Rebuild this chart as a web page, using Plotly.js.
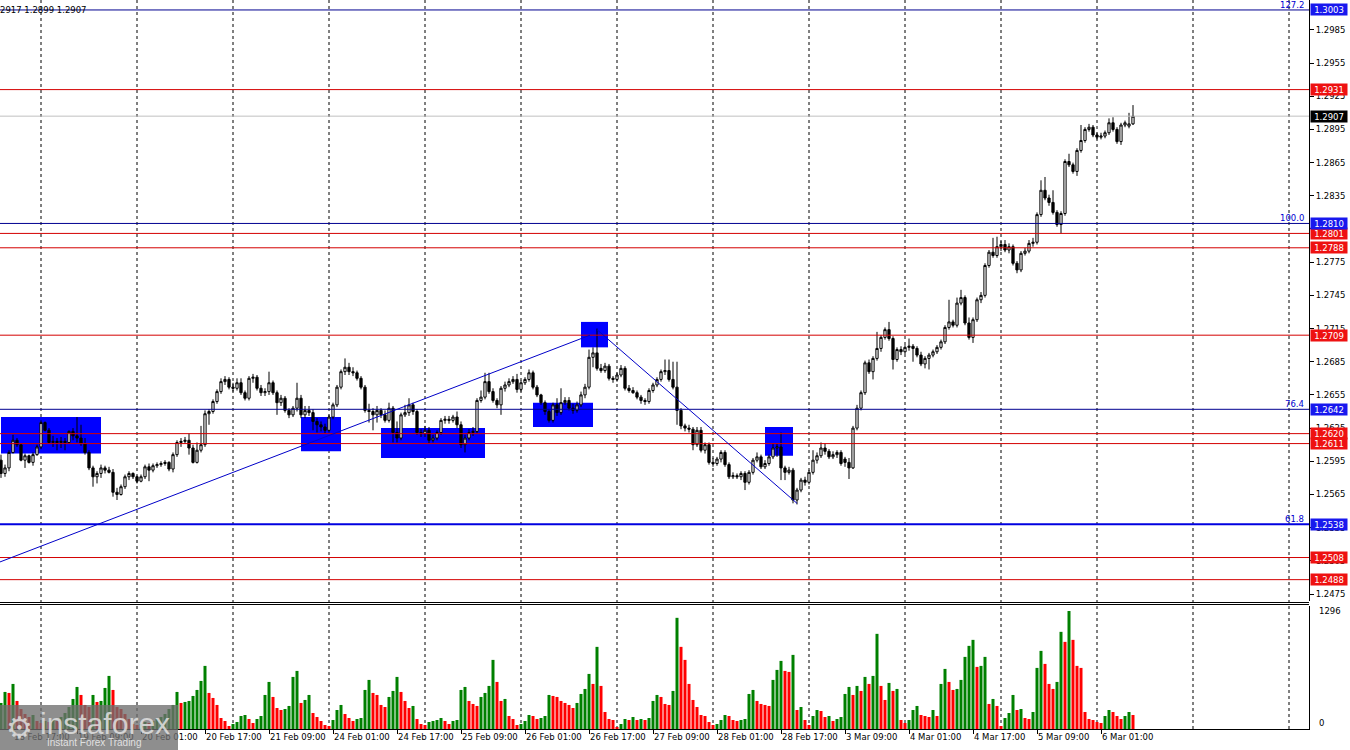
<!DOCTYPE html>
<html><head><meta charset="utf-8">
<script src="https://cdn.plot.ly/plotly-3.0.1.min.js"></script>
<style>html,body{margin:0;padding:0;background:#fff;overflow:hidden}#chart{width:1350px;height:750px}</style>
</head><body><div id="chart"></div>
<script>
// Hourly bars; hour 0 = 19 Feb 00:00 (weekend hours skipped), first bar is hour -10 (18 Feb 14:00)
const firstHour = -10;
const open = [
1.2596,1.2584,1.2589,1.2603,1.2614,1.2610,1.2596,1.2600,1.2594,1.2601,
1.2608,1.2630,1.2623,1.2612,1.2613,1.2612,1.2613,1.2612,1.2622,1.2618,
1.2616,1.2611,1.2603,1.2589,1.2581,1.2584,1.2589,1.2587,1.2585,1.2567,
1.2565,1.2572,1.2581,1.2584,1.2581,1.2577,1.2581,1.2590,1.2587,1.2591,
1.2592,1.2593,1.2594,1.2588,1.2601,1.2612,1.2613,1.2614,1.2607,1.2594,
1.2605,1.2610,1.2638,1.2640,1.2649,1.2658,1.2667,1.2669,1.2662,1.2661,
1.2666,1.2657,1.2652,1.2670,1.2671,1.2661,1.2657,1.2658,1.2666,1.2657,
1.2648,1.2652,1.2641,1.2637,1.2643,1.2652,1.2637,1.2641,1.2639,1.2631,
1.2628,1.2626,1.2623,1.2635,1.2646,1.2662,1.2676,1.2680,1.2676,1.2675,
1.2670,1.2662,1.2641,1.2640,1.2637,1.2641,1.2637,1.2632,1.2643,1.2621,
1.2616,1.2637,1.2639,1.2646,1.2640,1.2621,1.2620,1.2623,1.2614,1.2616,
1.2621,1.2632,1.2633,1.2632,1.2635,1.2628,1.2610,1.2616,1.2621,1.2622,
1.2650,1.2653,1.2667,1.2658,1.2650,1.2646,1.2661,1.2664,1.2667,1.2669,
1.2660,1.2666,1.2669,1.2675,1.2662,1.2655,1.2648,1.2640,1.2632,1.2646,
1.2639,1.2648,1.2650,1.2643,1.2641,1.2646,1.2655,1.2662,1.2689,1.2693,
1.2679,1.2677,1.2681,1.2670,1.2669,1.2673,1.2679,1.2661,1.2659,1.2657,
1.2653,1.2650,1.2649,1.2659,1.2664,1.2669,1.2676,1.2677,1.2669,1.2662,
1.2641,1.2627,1.2625,1.2624,1.2610,1.2623,1.2605,1.2610,1.2594,1.2593,
1.2597,1.2603,1.2592,1.2581,1.2582,1.2581,1.2584,1.2576,1.2585,1.2596,
1.2599,1.2590,1.2593,1.2599,1.2607,1.2608,1.2589,1.2585,1.2587,1.2560,
1.2569,1.2578,1.2576,1.2585,1.2596,1.2600,1.2607,1.2604,1.2599,1.2601,
1.2603,1.2597,1.2594,1.2589,1.2625,1.2643,1.2657,1.2684,1.2676,1.2688,
1.2697,1.2707,1.2714,1.2706,1.2687,1.2696,1.2694,1.2698,1.2699,1.2697,
1.2691,1.2683,1.2688,1.2691,1.2694,1.2698,1.2703,1.2716,1.2721,1.2718,
1.2738,1.2743,1.2720,1.2707,1.2723,1.2741,1.2745,1.2772,1.2784,1.2781,
1.2789,1.2791,1.2786,1.2789,1.2774,1.2768,1.2783,1.2785,1.2792,1.2793,
1.2818,1.2840,1.2833,1.2829,1.2820,1.2809,1.2819,1.2866,1.2863,1.2857,
1.2876,1.2885,1.2895,1.2897,1.2890,1.2888,1.2889,1.2892,1.2901,1.2895,
1.2884,1.2899,1.2898,1.2900];
const high = [
1.2601,1.2592,1.2605,1.2619,1.2616,1.2611,1.2602,1.2601,1.2603,1.2610,
1.2632,1.2631,1.2625,1.2618,1.2616,1.2617,1.2616,1.2623,1.2625,1.2635,
1.2628,1.2616,1.2605,1.2591,1.2586,1.2592,1.2591,1.2590,1.2588,1.2571,
1.2574,1.2583,1.2586,1.2585,1.2582,1.2583,1.2592,1.2593,1.2593,1.2594,
1.2595,1.2596,1.2595,1.2603,1.2614,1.2616,1.2617,1.2620,1.2610,1.2612,
1.2627,1.2641,1.2642,1.2651,1.2660,1.2670,1.2672,1.2671,1.2666,1.2670,
1.2670,1.2659,1.2672,1.2674,1.2673,1.2664,1.2661,1.2676,1.2668,1.2659,
1.2655,1.2654,1.2643,1.2645,1.2666,1.2655,1.2645,1.2645,1.2642,1.2634,
1.2631,1.2629,1.2637,1.2648,1.2664,1.2678,1.2688,1.2684,1.2680,1.2677,
1.2672,1.2664,1.2647,1.2643,1.2645,1.2643,1.2641,1.2648,1.2645,1.2631,
1.2639,1.2646,1.2652,1.2648,1.2642,1.2624,1.2627,1.2626,1.2619,1.2623,
1.2634,1.2636,1.2636,1.2637,1.2640,1.2631,1.2619,1.2624,1.2626,1.2652,
1.2659,1.2675,1.2675,1.2661,1.2652,1.2663,1.2667,1.2670,1.2672,1.2674,
1.2668,1.2671,1.2678,1.2677,1.2664,1.2656,1.2650,1.2642,1.2648,1.2652,
1.2661,1.2653,1.2653,1.2647,1.2649,1.2658,1.2665,1.2696,1.2698,1.2715,
1.2683,1.2684,1.2683,1.2672,1.2675,1.2682,1.2681,1.2664,1.2662,1.2659,
1.2655,1.2652,1.2661,1.2666,1.2671,1.2678,1.2687,1.2687,1.2685,1.2685,
1.2643,1.2629,1.2628,1.2626,1.2626,1.2626,1.2612,1.2612,1.2598,1.2599,
1.2605,1.2605,1.2594,1.2585,1.2584,1.2586,1.2586,1.2587,1.2598,1.2603,
1.2601,1.2596,1.2601,1.2611,1.2611,1.2621,1.2591,1.2590,1.2589,1.2571,
1.2580,1.2581,1.2587,1.2605,1.2603,1.2612,1.2611,1.2606,1.2604,1.2605,
1.2605,1.2599,1.2598,1.2627,1.2646,1.2659,1.2686,1.2687,1.2690,1.2712,
1.2709,1.2716,1.2721,1.2708,1.2698,1.2699,1.2700,1.2706,1.2701,1.2699,
1.2694,1.2690,1.2693,1.2696,1.2700,1.2705,1.2718,1.2741,1.2723,1.2743,
1.2750,1.2745,1.2725,1.2725,1.2743,1.2748,1.2774,1.2786,1.2797,1.2798,
1.2794,1.2795,1.2792,1.2791,1.2776,1.2785,1.2788,1.2795,1.2797,1.2820,
1.2849,1.2852,1.2836,1.2840,1.2822,1.2821,1.2868,1.2873,1.2865,1.2878,
1.2899,1.2897,1.2900,1.2899,1.2892,1.2892,1.2894,1.2905,1.2906,1.2897,
1.2901,1.2903,1.2910,1.2917];
const low = [
1.2580,1.2581,1.2586,1.2602,1.2608,1.2595,1.2589,1.2593,1.2591,1.2600,
1.2606,1.2622,1.2611,1.2608,1.2605,1.2607,1.2605,1.2611,1.2614,1.2612,
1.2609,1.2601,1.2587,1.2572,1.2575,1.2580,1.2584,1.2584,1.2563,1.2560,
1.2564,1.2570,1.2578,1.2579,1.2575,1.2576,1.2579,1.2577,1.2585,1.2589,
1.2590,1.2591,1.2586,1.2585,1.2599,1.2608,1.2611,1.2601,1.2593,1.2593,
1.2603,1.2608,1.2628,1.2638,1.2647,1.2656,1.2664,1.2660,1.2658,1.2659,
1.2655,1.2650,1.2650,1.2666,1.2659,1.2654,1.2654,1.2655,1.2655,1.2637,
1.2645,1.2639,1.2634,1.2635,1.2640,1.2634,1.2634,1.2636,1.2623,1.2621,
1.2622,1.2620,1.2621,1.2633,1.2644,1.2660,1.2673,1.2673,1.2672,1.2668,
1.2660,1.2639,1.2630,1.2623,1.2630,1.2634,1.2630,1.2630,1.2612,1.2612,
1.2614,1.2635,1.2636,1.2637,1.2619,1.2617,1.2617,1.2611,1.2612,1.2614,
1.2619,1.2629,1.2629,1.2630,1.2625,1.2607,1.2603,1.2614,1.2618,1.2620,
1.2648,1.2651,1.2656,1.2648,1.2643,1.2637,1.2658,1.2662,1.2665,1.2657,
1.2658,1.2664,1.2667,1.2660,1.2653,1.2646,1.2637,1.2630,1.2630,1.2636,
1.2637,1.2646,1.2641,1.2638,1.2639,1.2644,1.2652,1.2660,1.2680,1.2677,
1.2675,1.2675,1.2668,1.2666,1.2667,1.2671,1.2659,1.2657,1.2656,1.2651,
1.2647,1.2646,1.2647,1.2657,1.2662,1.2667,1.2673,1.2667,1.2660,1.2628,
1.2624,1.2622,1.2621,1.2605,1.2608,1.2603,1.2602,1.2592,1.2590,1.2591,
1.2594,1.2590,1.2579,1.2579,1.2579,1.2578,1.2569,1.2574,1.2583,1.2594,
1.2588,1.2588,1.2591,1.2597,1.2599,1.2578,1.2578,1.2583,1.2557,1.2556,
1.2567,1.2573,1.2574,1.2583,1.2593,1.2598,1.2601,1.2597,1.2597,1.2598,
1.2591,1.2590,1.2579,1.2588,1.2623,1.2641,1.2655,1.2674,1.2669,1.2686,
1.2694,1.2705,1.2704,1.2678,1.2685,1.2691,1.2692,1.2695,1.2685,1.2689,
1.2681,1.2679,1.2678,1.2689,1.2692,1.2696,1.2701,1.2714,1.2716,1.2716,
1.2736,1.2718,1.2705,1.2702,1.2721,1.2738,1.2743,1.2770,1.2779,1.2779,
1.2785,1.2784,1.2783,1.2772,1.2765,1.2766,1.2781,1.2783,1.2789,1.2791,
1.2816,1.2831,1.2826,1.2818,1.2807,1.2801,1.2817,1.2861,1.2855,1.2853,
1.2874,1.2883,1.2893,1.2888,1.2886,1.2886,1.2887,1.2890,1.2893,1.2882,
1.2881,1.2897,1.2896,1.2899];
const close = [
1.2584,1.2589,1.2603,1.2614,1.2610,1.2596,1.2600,1.2594,1.2601,1.2608,
1.2630,1.2623,1.2612,1.2613,1.2612,1.2613,1.2612,1.2622,1.2618,1.2616,
1.2611,1.2603,1.2589,1.2581,1.2584,1.2589,1.2587,1.2585,1.2567,1.2565,
1.2572,1.2581,1.2584,1.2581,1.2577,1.2581,1.2590,1.2587,1.2591,1.2592,
1.2593,1.2594,1.2588,1.2601,1.2612,1.2613,1.2614,1.2607,1.2594,1.2605,
1.2610,1.2638,1.2640,1.2649,1.2658,1.2667,1.2669,1.2662,1.2661,1.2666,
1.2657,1.2652,1.2670,1.2671,1.2661,1.2657,1.2658,1.2666,1.2657,1.2648,
1.2652,1.2641,1.2637,1.2643,1.2652,1.2637,1.2641,1.2639,1.2631,1.2628,
1.2626,1.2623,1.2635,1.2646,1.2662,1.2676,1.2680,1.2676,1.2675,1.2670,
1.2662,1.2641,1.2640,1.2637,1.2641,1.2637,1.2632,1.2643,1.2621,1.2616,
1.2637,1.2639,1.2646,1.2640,1.2621,1.2620,1.2623,1.2614,1.2616,1.2621,
1.2632,1.2633,1.2632,1.2635,1.2628,1.2610,1.2616,1.2621,1.2622,1.2650,
1.2653,1.2667,1.2658,1.2650,1.2646,1.2661,1.2664,1.2667,1.2669,1.2660,
1.2666,1.2669,1.2675,1.2662,1.2655,1.2648,1.2640,1.2632,1.2646,1.2639,
1.2648,1.2650,1.2643,1.2641,1.2646,1.2655,1.2662,1.2689,1.2693,1.2679,
1.2677,1.2681,1.2670,1.2669,1.2673,1.2679,1.2661,1.2659,1.2657,1.2653,
1.2650,1.2649,1.2659,1.2664,1.2669,1.2676,1.2677,1.2669,1.2662,1.2641,
1.2627,1.2625,1.2624,1.2610,1.2623,1.2605,1.2610,1.2594,1.2593,1.2597,
1.2603,1.2592,1.2581,1.2582,1.2581,1.2584,1.2576,1.2585,1.2596,1.2599,
1.2590,1.2593,1.2599,1.2607,1.2608,1.2589,1.2585,1.2587,1.2560,1.2569,
1.2578,1.2576,1.2585,1.2596,1.2600,1.2607,1.2604,1.2599,1.2601,1.2603,
1.2593,1.2594,1.2589,1.2625,1.2643,1.2657,1.2684,1.2676,1.2688,1.2697,
1.2707,1.2714,1.2706,1.2687,1.2696,1.2694,1.2698,1.2699,1.2697,1.2691,
1.2683,1.2688,1.2691,1.2694,1.2698,1.2703,1.2716,1.2721,1.2718,1.2738,
1.2743,1.2720,1.2707,1.2723,1.2741,1.2745,1.2772,1.2784,1.2781,1.2789,
1.2791,1.2786,1.2789,1.2774,1.2768,1.2783,1.2785,1.2792,1.2793,1.2818,
1.2840,1.2833,1.2829,1.2820,1.2809,1.2819,1.2866,1.2863,1.2857,1.2876,
1.2885,1.2895,1.2897,1.2890,1.2888,1.2889,1.2892,1.2901,1.2895,1.2884,
1.2899,1.2901,1.2900,1.2907];
const volume = [
286,407,396,495,308,220,165,132,154,88,
66,88,77,99,88,132,176,242,330,462,
374,264,242,374,297,308,451,583,429,242,
220,165,110,55,44,55,77,66,88,110,
132,165,220,264,407,286,297,308,363,429,
528,693,396,341,264,121,88,33,55,77,
143,154,110,66,110,143,374,517,352,231,
209,220,253,572,638,286,319,374,176,132,
88,44,33,99,209,264,165,121,88,110,
121,429,539,396,374,264,242,352,418,572,
407,308,231,253,110,55,44,77,88,99,
121,88,55,88,99,429,462,308,275,253,
352,396,473,759,517,308,330,143,110,44,
55,88,154,143,110,121,143,374,363,352,
308,286,264,231,286,385,440,605,495,902,
473,187,110,99,22,55,110,99,132,99,
110,99,121,308,374,352,275,264,418,1221,
902,759,495,319,242,154,143,77,44,55,
99,154,143,99,88,99,110,385,429,308,
275,264,253,539,649,748,638,627,814,209,
242,99,44,143,209,198,132,143,88,110,
132,385,462,374,473,418,572,495,583,1045,
473,319,506,418,440,99,66,99,209,253,
154,143,132,209,143,495,660,517,429,440,
539,792,913,979,682,693,792,275,330,253,
33,121,176,374,209,220,121,110,187,671,
858,715,495,440,517,1067,957,1296,979,693,
671,187,110,99,77,66,143,209,187,143,
110,143,187,154];
const timeLabels = ['18 Feb 17:00','19 Feb 09:00','20 Feb 01:00','20 Feb 17:00','21 Feb 09:00','24 Feb 01:00','24 Feb 17:00','25 Feb 09:00','26 Feb 01:00','26 Feb 17:00','27 Feb 09:00','28 Feb 01:00','28 Feb 17:00','3 Mar 09:00','4 Mar 01:00','4 Mar 17:00','5 Mar 09:00','6 Mar 01:00'];
const priceTicks = [1.2475,1.2505,1.2535,1.2565,1.2595,1.2625,1.2655,1.2685,1.2715,1.2745,1.2775,1.2805,1.2835,1.2865,1.2895,1.2925,1.2955,1.2985];
const redLevels = [1.2931,1.2801,1.2788,1.2709,1.2620,1.2611,1.2508,1.2488];
const blueLevels = [1.3003,1.2810,1.2642,1.2538];
const fibLabels = ['127.2','100.0','76.4','61.8'];
const lastPrice = 1.2907;
const volumeMax = 1296;
const headerText = '2917 1.2899 1.2907';
// zones: [startHour, endHour, topPrice, bottomPrice]
const zoneStart = [-10, 65, 85, 123, 135, 181];
const zoneEnd   = [15, 75, 111, 138, 141.75, 188];
const zoneTop   = [1.2635, 1.2635, 1.2625, 1.2648, 1.2721, 1.2626];
const zoneBot   = [1.2602, 1.2604, 1.2598, 1.2626, 1.2698, 1.2600];
// trend lines: [hour, price] pairs
const trendA = [[-10.25, 1.2504], [137.25, 1.2709]];
const trendB = [[139, 1.2714], [189, 1.2557]];

const x = open.map((_, i) => i + firstHour);
const volColors = volume.map((v, i) => (i === 0 || v > volume[i - 1]) ? '#008000' : '#ff0000');

const H = 750, mB = 21, mT = 0, plotH = H - mT - mB;
const py = p => (H - mB - p) / plotH; // pixel row -> paper y
const FONT = 'DejaVu Sans';

const traces = [
  {type:'candlestick', x:x, open:open, high:high, low:low, close:close, xaxis:'x', yaxis:'y',
   increasing:{line:{color:'#000000', width:1}, fillcolor:'#ffffff'},
   decreasing:{line:{color:'#000000', width:1}, fillcolor:'#000000'},
   whiskerwidth:0, hoverinfo:'skip', showlegend:false},
  {type:'bar', x:x, y:volume, xaxis:'x', yaxis:'y2', marker:{color:volColors, line:{width:0}},
   hoverinfo:'skip', showlegend:false}
];

const shapes = [];
for (let i = 0; i < zoneStart.length; i++) {
  shapes.push({type:'rect', xref:'x', yref:'y', x0:zoneStart[i], x1:zoneEnd[i], y0:zoneBot[i], y1:zoneTop[i],
    fillcolor:'#0000ff', line:{width:0}, layer:'below'});
}
for (let d = 0; d <= 312; d += 24) {
  shapes.push({type:'line', xref:'x', yref:'paper', x0:d, x1:d, y0:0, y1:1,
    line:{color:'#000000', width:1, dash:'3px,3px'}, layer:'below'});
}
redLevels.forEach(v => shapes.push({type:'line', xref:'paper', yref:'y', x0:0, x1:1, y0:v, y1:v,
  line:{color:'#d40000', width:1}}));
blueLevels.forEach((v, i) => shapes.push({type:'line', xref:'paper', yref:'y', x0:0, x1:1, y0:v, y1:v,
  line:{color: i === 3 ? '#0000e0' : '#000090', width: i === 3 ? 2 : 1}}));
shapes.push({type:'line', xref:'paper', yref:'y', x0:0, x1:1, y0:lastPrice, y1:lastPrice, line:{color:'#c0c0c0', width:1}});
[trendA, trendB].forEach(t => shapes.push({type:'line', xref:'x', yref:'y', x0:t[0][0], y0:t[0][1], x1:t[1][0], y1:t[1][1],
  line:{color:'#0000c8', width:1}}));
// panel separator
shapes.push({type:'line', xref:'paper', yref:'paper', x0:0, x1:1, y0:py(602.5), y1:py(602.5), line:{color:'#000', width:1}});
shapes.push({type:'line', xref:'paper', yref:'paper', x0:0, x1:1, y0:py(604.5), y1:py(604.5), line:{color:'#000', width:1}});
// watermark box
shapes.push({type:'rect', xref:'paper', yref:'paper', x0:0, x1:178/1309, y0:py(750), y1:py(705),
  fillcolor:'rgba(110,110,110,0.78)', line:{width:0}, layer:'above'});

const annotations = [];
const boxLabel = (v, bg) => ({x:1, xref:'paper', xanchor:'left', xshift:1, y:v, yref:'y', yanchor:'middle',
  text:v.toFixed(4), showarrow:false, bgcolor:bg, borderpad:0, width:36, height:11,
  font:{family:FONT, size:8.5, color:'#ffffff'}});
redLevels.forEach(v => annotations.push(boxLabel(v, '#ee1111')));
blueLevels.forEach(v => annotations.push(boxLabel(v, '#1818ee')));
annotations.push(boxLabel(lastPrice, '#000000'));
blueLevels.forEach((v, i) => annotations.push({x:1, xref:'paper', xanchor:'right', xshift:-3, y:v, yref:'y', yanchor:'bottom',
  yshift:-2, text:fibLabels[i], showarrow:false, font:{family:FONT, size:8.5, color:'#0000d0'}}));
annotations.push({x:1, xref:'paper', xanchor:'left', xshift:8, y:volumeMax, yref:'y2', yanchor:'middle',
  text:String(volumeMax), showarrow:false, font:{family:FONT, size:8.5, color:'#000'}});
annotations.push({x:1, xref:'paper', xanchor:'left', xshift:8, y:0, yref:'y2', yanchor:'bottom', yshift:-1,
  text:'0', showarrow:false, font:{family:FONT, size:8.5, color:'#000'}});
annotations.push({x:0, xref:'paper', xanchor:'left', xshift:-2, y:1, yref:'paper', yanchor:'top', yshift:-3,
  text:headerText, showarrow:false, font:{family:FONT, size:8.5, color:'#000'}});
annotations.push({x:4/1309, xref:'paper', xanchor:'left', y:py(727), yref:'paper', yanchor:'middle',
  text:'\u2699', showarrow:false, font:{family:FONT, size:30, color:'rgba(225,225,225,0.85)'}});
annotations.push({x:38/1309, xref:'paper', xanchor:'left', y:py(723), yref:'paper', yanchor:'middle',
  text:'instaforex', showarrow:false, font:{family:'Liberation Sans', size:30, color:'rgba(225,225,225,0.85)'}});
annotations.push({x:45/1309, xref:'paper', xanchor:'left', y:py(742), yref:'paper', yanchor:'middle',
  text:'Instant Forex Trading', showarrow:false, font:{family:'Liberation Sans', size:10, color:'rgba(235,235,235,0.9)'}});

const tickHours = timeLabels.map((_, k) => -7 + 16 * k);

const layout = {
  width:1350, height:750, margin:{l:0, r:41, t:mT, b:mB, pad:0},
  paper_bgcolor:'#ffffff', plot_bgcolor:'#ffffff', showlegend:false, hovermode:false,
  boxgap:0.2, bargap:0.25,
  xaxis:{range:[-10.25, 317], anchor:'y2', showgrid:false, zeroline:false, showline:true, linecolor:'#000', linewidth:1,
    ticks:'outside', ticklen:4, tickcolor:'#000', tickvals:tickHours, ticktext:timeLabels, tickangle:0,
    ticklabelposition:'outside right', tickfont:{family:FONT, size:8.5, color:'#000'},
    rangeslider:{visible:false}, fixedrange:true},
  yaxis:{domain:[py(601), 1], range:[1.24687, 1.3012], side:'right', anchor:'x', showgrid:false, zeroline:false,
    showline:true, linecolor:'#000', linewidth:1, ticks:'outside', ticklen:4, tickcolor:'#000',
    tickvals:priceTicks, tickformat:'.4f', tickfont:{family:FONT, size:8.5, color:'#000'}, fixedrange:true},
  yaxis2:{domain:[0, py(606)], range:[0, volumeMax * 123 / 118], side:'right', anchor:'x', showgrid:false, zeroline:false,
    showline:true, linecolor:'#000', linewidth:1, showticklabels:false, ticks:'', fixedrange:true},
  shapes:shapes, annotations:annotations
};

Plotly.newPlot('chart', traces, layout, {staticPlot:true, displayModeBar:false});
</script>
</body></html>
